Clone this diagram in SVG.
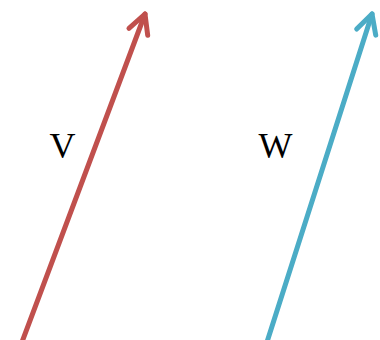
<svg xmlns="http://www.w3.org/2000/svg" width="380" height="340" viewBox="0 0 380 340">
<defs>
<marker id="hr" markerUnits="userSpaceOnUse" markerWidth="40" markerHeight="40" viewBox="-30 -20 40 40" refX="0" refY="0" orient="auto" overflow="visible">
<path d="M -19 -10 L 0 0 L -19 10" fill="none" stroke="#C0504D" stroke-width="5" stroke-linecap="round" stroke-linejoin="round"/>
</marker>
<marker id="hb" markerUnits="userSpaceOnUse" markerWidth="40" markerHeight="40" viewBox="-30 -20 40 40" refX="0" refY="0" orient="auto" overflow="visible">
<path d="M -19 -10 L 0 0 L -19 10" fill="none" stroke="#4BACC6" stroke-width="5" stroke-linecap="round" stroke-linejoin="round"/>
</marker>
</defs>
<style>
.lbl{font-family:"Liberation Serif","Times New Roman",serif;font-size:36px;fill:#000;text-anchor:middle}
.ln{fill:none;stroke-width:5;stroke-linecap:round}
</style>
<g id="connectors">
<line class="ln" x1="22" y1="342" x2="145" y2="14" stroke="#C0504D" marker-end="url(#hr)"/>
<line class="ln" x1="267" y1="342" x2="372" y2="14" stroke="#4BACC6" marker-end="url(#hb)"/>
</g>
<g id="V"><text class="lbl" x="62.5" y="158">V</text></g>
<g id="W"><text class="lbl" x="275.5" y="158">W</text></g>
</svg>
